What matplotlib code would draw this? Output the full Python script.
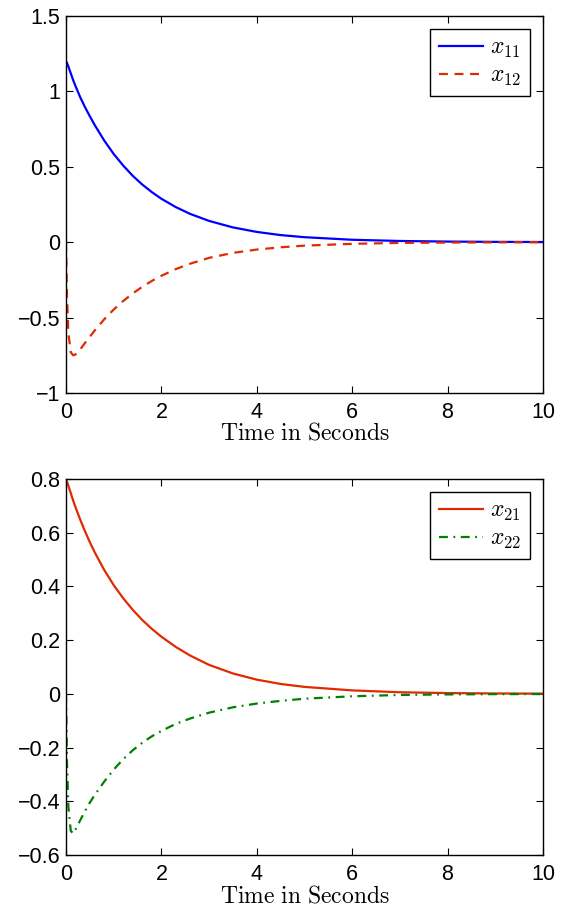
import matplotlib
matplotlib.use("Agg")
import matplotlib.pyplot as plt

# time samples (seconds)
t = [0, 0.02, 0.05, 0.1, 0.15, 0.2, 0.3, 0.4, 0.5, 0.6, 0.8, 1.0, 1.2, 1.4,
     1.6, 1.8, 2.0, 2.3, 2.6, 3.0, 3.5, 4.0, 4.5, 5.0, 6.0, 7.0, 8.0, 9.0, 10.0]

x11 = [1.20, 1.19, 1.165, 1.12, 1.075, 1.035, 0.96, 0.895, 0.835, 0.778,
       0.675, 0.585, 0.508, 0.44, 0.382, 0.332, 0.288, 0.233, 0.188, 0.141,
       0.098, 0.068, 0.047, 0.033, 0.016, 0.008, 0.004, 0.002, 0.001]
x12 = [0.0, -0.35, -0.60, -0.73, -0.75, -0.745, -0.71, -0.668, -0.627, -0.587,
       -0.512, -0.447, -0.39, -0.34, -0.296, -0.257, -0.223, -0.179, -0.143,
       -0.104, -0.071, -0.049, -0.034, -0.023, -0.011, -0.005, -0.0025,
       -0.0012, -0.0006]
x21 = [0.80, 0.79, 0.775, 0.748, 0.72, 0.695, 0.648, 0.605, 0.565, 0.528,
       0.462, 0.405, 0.356, 0.313, 0.275, 0.242, 0.213, 0.175, 0.143, 0.108,
       0.076, 0.053, 0.037, 0.026, 0.013, 0.006, 0.003, 0.0015, 0.0008]
x22 = [0.0, -0.25, -0.42, -0.51, -0.52, -0.505, -0.47, -0.436, -0.405, -0.377,
       -0.327, -0.282, -0.243, -0.21, -0.182, -0.158, -0.138, -0.112, -0.092,
       -0.07, -0.05, -0.036, -0.026, -0.018, -0.009, -0.004, -0.002, -0.001,
       -0.0005]

top_yticks = [-1, -0.5, 0, 0.5, 1, 1.5]
top_yticklabels = ["\u22121", "\u22120.5", "0", "0.5", "1", "1.5"]
bot_yticks = [-0.6, -0.4, -0.2, 0, 0.2, 0.4, 0.6, 0.8]
bot_yticklabels = ["\u22120.6", "\u22120.4", "\u22120.2", "0", "0.2", "0.4", "0.6", "0.8"]
xticks = [0, 2, 4, 6, 8, 10]

plt.rcParams["font.family"] = ["Liberation Sans", "DejaVu Sans"]
plt.rcParams["mathtext.fontset"] = "cm"

RED = "#e02a00"
BLUE = "#0000ff"
GREEN = "#008000"

fig = plt.figure(figsize=(5.63, 9.09), dpi=100)
ax1 = fig.add_axes([0.1172, 0.5677, 0.8472, 0.4147])
ax2 = fig.add_axes([0.1172, 0.0594, 0.8472, 0.4136])

ax1.plot(t, x11, color=BLUE, lw=1.6, label=r"$x_{11}$")
ax1.plot(t, x12, color=RED, lw=1.6, ls=(0, (4, 3)), label=r"$x_{12}$")
ax2.plot(t, x21, color=RED, lw=1.6, label=r"$x_{21}$")
ax2.plot(t, x22, color=GREEN, lw=1.6, ls=(0, (4, 2.5, 0.8, 2.5)), label=r"$x_{22}$")

for ax, yt, ytl, ylim in [(ax1, top_yticks, top_yticklabels, (-1, 1.5)),
                          (ax2, bot_yticks, bot_yticklabels, (-0.6, 0.8))]:
    ax.set_xlim(0, 10)
    ax.set_ylim(*ylim)
    ax.set_xticks(xticks)
    ax.set_yticks(yt)
    ax.set_yticklabels(ytl)
    ax.tick_params(direction="in", top=True, right=True, length=5,
                   width=0.8, labelsize=15.5)
    ax.tick_params(axis="x", pad=6.5)
    ax.tick_params(axis="y", pad=4)
    for s in ax.spines.values():
        s.set_linewidth(1.0)
    ax.set_xlabel(r"$\mathrm{Time\ in\ Seconds}$", fontsize=17, labelpad=0)
    leg = ax.legend(loc="upper right", fontsize=17, fancybox=False,
                    edgecolor="black", framealpha=1, borderaxespad=0.55,
                    handlelength=1.9, handletextpad=0.3, labelspacing=0.2,
                    borderpad=0.35)
    leg.get_frame().set_linewidth(1.0)

fig.savefig("out.png", dpi=100)
